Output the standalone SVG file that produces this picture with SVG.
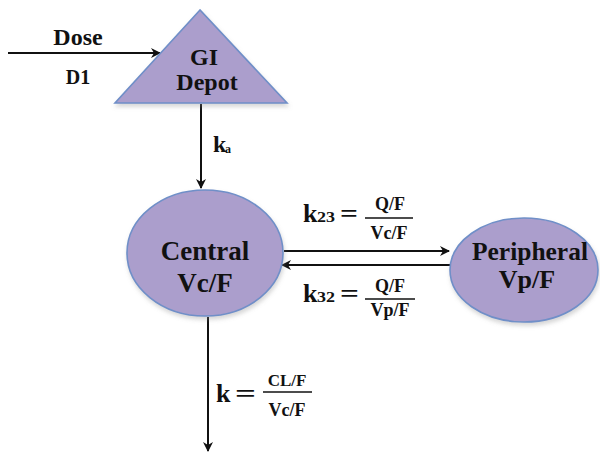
<svg xmlns="http://www.w3.org/2000/svg" width="600" height="453" viewBox="0 0 600 453">
<style>
.node{fill:#ab9ecc;stroke:#6f8fc8;stroke-width:1.6}
.lbl{font-family:'Liberation Serif',serif;font-weight:700;fill:#111;text-anchor:middle}
.eq{font-family:'Liberation Serif',serif;font-weight:700;fill:#111}
.edge{stroke:#111;stroke-width:2;fill:none}
.fl{stroke:#111;stroke-width:1.6}
</style>
<defs>
<marker id="ah" viewBox="0 0 10 10" refX="9" refY="5" markerWidth="5" markerHeight="5" orient="auto" markerUnits="strokeWidth">
<path d="M0,0 L10,5 L0,10 L3,5 Z" fill="#111"/>
</marker>
<filter id="sh" x="-10%" y="-10%" width="130%" height="130%">
<feDropShadow dx="1" dy="3" stdDeviation="2" flood-color="#888" flood-opacity="0.35"/>
</filter>
</defs>
<rect width="600" height="453" fill="#fff"/>
<g id="connectors">
<line class="edge" x1="8" y1="53" x2="160" y2="53" marker-end="url(#ah)"/>
<line class="edge" x1="201" y1="104" x2="201" y2="188" marker-end="url(#ah)"/>
<line class="edge" x1="284" y1="251" x2="449" y2="251" marker-end="url(#ah)"/>
<line class="edge" x1="450" y1="265" x2="282" y2="265" marker-end="url(#ah)"/>
<line class="edge" x1="208" y1="317" x2="208" y2="451" marker-end="url(#ah)"/>
</g>
<g id="dose-label">
<text class="lbl" x="78" y="45" font-size="24">Dose</text>
<text class="lbl" x="78" y="84" font-size="20">D1</text>
</g>
<g id="gi-depot">
<polygon class="node" filter="url(#sh)" points="200,10 115,103 287,103"/>
<text class="lbl" x="204" y="65" font-size="24">GI</text>
<text class="lbl" x="207" y="90" font-size="24">Depot</text>
</g>
<g id="ka-label">
<text class="eq" x="213" y="152" font-size="24">k</text>
<text class="eq" x="225" y="153" font-size="12">a</text>
</g>
<g id="central">
<ellipse class="node" filter="url(#sh)" cx="205" cy="253" rx="78" ry="63"/>
<text class="lbl" x="205" y="260" font-size="27">Central</text>
<text class="lbl" x="205" y="292" font-size="27">Vc/F</text>
</g>
<g id="peripheral">
<ellipse class="node" filter="url(#sh)" cx="524" cy="270" rx="74" ry="52"/>
<text class="lbl" x="530" y="260" font-size="26" textLength="116" lengthAdjust="spacingAndGlyphs">Peripheral</text>
<text class="lbl" x="527" y="288" font-size="26">Vp/F</text>
</g>
<g id="k23-label">
<text class="eq" x="303" y="222" font-size="26">k</text>
<text class="eq" x="317" y="222" font-size="15" textLength="18" lengthAdjust="spacingAndGlyphs">23</text>
<text class="eq" x="340" y="222" font-size="26" textLength="18" lengthAdjust="spacingAndGlyphs">=</text>
<text class="lbl" x="390" y="210" font-size="18">Q/F</text>
<line class="fl" x1="365" y1="218" x2="413" y2="218"/>
<text class="lbl" x="389" y="239" font-size="18">Vc/F</text>
</g>
<g id="k32-label">
<text class="eq" x="303" y="302" font-size="26">k</text>
<text class="eq" x="317" y="302" font-size="15" textLength="18" lengthAdjust="spacingAndGlyphs">32</text>
<text class="eq" x="340" y="302" font-size="26" textLength="19" lengthAdjust="spacingAndGlyphs">=</text>
<text class="lbl" x="390" y="292" font-size="18">Q/F</text>
<line class="fl" x1="365" y1="299" x2="415" y2="299"/>
<text class="lbl" x="390" y="316" font-size="18">Vp/F</text>
</g>
<g id="k-label">
<text class="eq" x="216" y="402" font-size="26">k</text>
<text class="eq" x="235" y="402" font-size="26" textLength="21" lengthAdjust="spacingAndGlyphs">=</text>
<text class="lbl" x="287" y="386" font-size="17">CL/F</text>
<line class="fl" x1="263" y1="392" x2="312" y2="392"/>
<text class="lbl" x="287" y="416" font-size="18">Vc/F</text>
</g>
</svg>
